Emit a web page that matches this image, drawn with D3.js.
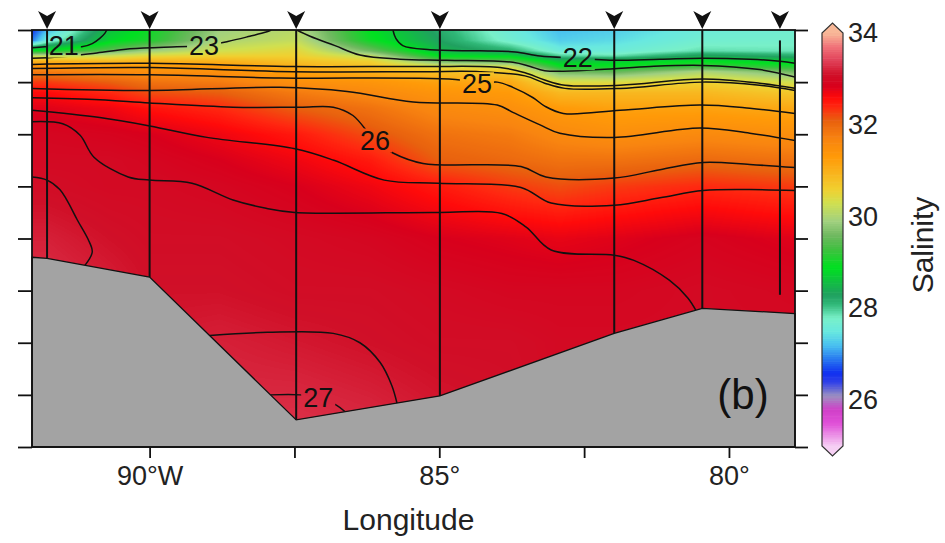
<!DOCTYPE html>
<html>
<head>
<meta charset="utf-8">
<script src="https://cdn.jsdelivr.net/npm/d3@7"></script>
<style>
  body { margin: 0; background: #fff; }
  svg { display: block; font-family: "Liberation Sans", Arial, sans-serif; }
</style>
</head>
<body>
<script>
// ---------------- data ----------------
// longitude (deg E, negative = W) and depth (m, unlabeled axis 0..400)
const lonRange = [-92.03, -78.86];
const depthRange = [0, 400];

// salinity profiles: one row per longitude, one value per depth level
const sectionLon = [-92.03, -91.77, -90.68, -90.00, -88.79, -87.47, -86.20, -84.99, -83.78, -82.92, -81.98, -80.46, -78.86];
const depthLevels = [0, 10, 20, 25, 30, 35, 40, 50, 60, 75, 100, 125, 150, 200, 250, 300, 400];
const salinity = [
  [26.6, 26.9, 29.0, 30.2, 31.0, 31.4, 31.8, 32.3, 32.6, 32.8, 32.95, 33.0, 33.05, 33.2, 33.3, 33.3, 33.3],
  [27.2, 27.6, 29.0, 30.2, 31.0, 31.4, 31.8, 32.3, 32.6, 32.8, 32.95, 33.0, 33.05, 33.2, 33.3, 33.3, 33.3],
  [28.6, 28.8, 29.5, 30.3, 30.9, 31.3, 31.6, 32.1, 32.4, 32.7, 32.9, 33.0, 33.0, 33.1, 33.2, 33.2, 33.2],
  [29.0, 29.1, 29.9, 30.5, 31.0, 31.3, 31.5, 31.9, 32.2, 32.55, 32.85, 32.95, 33.0, 33.05, 33.1, 33.15, 33.2],
  [29.9, 30.0, 30.3, 30.6, 31.0, 31.3, 31.5, 31.8, 32.1, 32.4, 32.7, 32.85, 32.95, 33.05, 33.1, 33.2, 33.3],
  [30.1, 30.2, 30.5, 30.6, 30.8, 31.0, 31.2, 31.5, 31.8, 32.1, 32.5, 32.7, 32.85, 33.0, 33.05, 33.15, 33.35],
  [28.9, 29.0, 29.6, 30.2, 30.6, 30.8, 31.0, 31.4, 31.6, 31.9, 32.2, 32.5, 32.7, 32.95, 33.05, 33.1, 33.3],
  [28.2, 28.3, 28.5, 28.9, 29.6, 30.4, 30.8, 31.2, 31.4, 31.6, 31.9, 32.1, 32.5, 32.85, 33.0, 33.05, 33.2],
  [27.6, 27.7, 28.2, 28.8, 29.5, 30.3, 30.7, 31.1, 31.3, 31.5, 31.8, 32.0, 32.3, 32.8, 32.95, 33.05, 33.1],
  [27.2, 27.3, 27.6, 28.0, 28.6, 29.0, 29.6, 30.4, 30.9, 31.3, 31.6, 31.9, 32.2, 32.75, 32.95, 33.0, 33.0],
  [27.3, 27.4, 27.6, 27.9, 28.7, 29.0, 29.5, 30.4, 30.9, 31.2, 31.5, 31.9, 32.3, 32.8, 32.95, 33.0, 33.0],
  [27.6, 27.7, 27.9, 28.4, 28.9, 29.3, 30.0, 30.6, 30.9, 31.2, 31.6, 32.0, 32.4, 32.9, 33.0, 33.0, 33.0],
  [27.7, 27.75, 27.85, 28.2, 28.7, 29.1, 29.6, 30.3, 30.7, 31.1, 31.5, 31.9, 32.3, 32.8, 32.95, 33.0, 33.0]
];

// density contours, [lon, depth]
const c21   = [[-92.03,17],[-91.81,16],[-91.48,15],[-91.17,16],[-90.99,13],[-90.86,8],[-90.77,3],[-90.74,0]];
const c22   = [[-85.80,0],[-85.75,8],[-85.63,15],[-85.16,19],[-84.30,20],[-83.69,21],[-83.26,25],[-82.61,27],[-82.05,29],[-81.19,28],[-80.46,27],[-79.64,28],[-79.12,30],[-78.86,32]];
const c23a  = [[-92.03,27],[-91.55,26],[-90.91,22],[-90.34,18],[-89.53,16],[-89.06,15],[-88.65,11],[-88.27,6],[-87.99,2],[-87.90,0]];
const c23b  = [[-87.46,0],[-87.23,6],[-86.80,15],[-86.37,24],[-85.68,28],[-84.87,29],[-83.73,31],[-83.43,35],[-83.18,39],[-82.23,38],[-81.36,35],[-80.46,34],[-79.47,38],[-78.86,45]];
const c24   = [[-92.03,33],[-90.00,32],[-87.52,35],[-85.28,35],[-83.95,36],[-83.52,41],[-83.18,48],[-82.83,53],[-81.88,53],[-80.46,47],[-79.47,51],[-78.86,56]];
const c245  = [[-92.03,37],[-90.00,36],[-87.52,40],[-85.28,40],[-84.30,40],[-83.52,44],[-83.18,51],[-82.83,56],[-81.88,56],[-80.46,50],[-79.47,53],[-78.86,58]];
const c25   = [[-92.03,43],[-90.00,43],[-87.75,46],[-84.64,48],[-84.35,52],[-84.00,50],[-83.73,55],[-83.38,65],[-83.18,73],[-82.86,80],[-81.88,77],[-80.50,72],[-79.64,75],[-78.86,80]];
const c255  = [[-92.03,56],[-90.00,58],[-87.75,55],[-86.59,59],[-85.45,69],[-84.00,72],[-83.73,79],[-83.26,91],[-82.92,99],[-81.98,103],[-80.50,94],[-79.64,99],[-78.86,106]];
const c26   = [[-92.03,65],[-90.86,67],[-90.00,70],[-88.56,74],[-87.40,74],[-86.83,74],[-86.49,82],[-86.11,106],[-85.80,118],[-85.28,128],[-83.59,131],[-83.16,141],[-81.98,142],[-81.19,134],[-80.45,127],[-79.64,129],[-78.86,132]];
const c2625 = [[-92.03,77],[-90.86,84],[-90.00,92],[-89.01,103],[-87.49,114],[-86.82,125],[-85.95,144],[-85.02,147],[-83.59,151],[-83.07,166],[-81.98,168],[-81.19,161],[-80.45,154],[-79.64,153],[-78.86,154]];
const c265  = [[-92.03,88],[-91.50,90],[-91.20,101],[-90.96,122],[-90.37,141],[-90.00,144],[-89.27,147],[-88.56,163],[-87.99,171],[-87.49,175],[-85.02,175],[-83.92,176],[-83.50,189],[-83.07,211],[-81.98,216],[-81.64,221],[-81.03,240],[-80.71,257],[-80.57,269]];
const c2675a = [[-92.03,141],[-91.77,144],[-91.55,153],[-91.43,163],[-91.25,182],[-91.06,201],[-90.99,213],[-91.12,226]];
const c2675b = [[-88.96,293],[-87.97,290],[-86.83,291],[-86.37,300],[-86.02,319],[-85.82,341],[-85.73,358]];
const c27   = [[-87.92,350],[-87.40,350],[-87.09,353],[-86.77,360],[-86.63,366]];

const labelText = ['21', '23', '22', '25', '26', '27'];
const labelLine = [c21, c23a, c22, c25, c26, c27];
const labelLon  = [-91.48, -89.06, -82.61, -84.35, -86.11, -87.09];

// bathymetry and stations
const bathyLon   = [-92.03, -91.77, -90.00, -87.47, -84.99, -81.98, -80.46, -78.86];
const bathyDepth = [218, 219, 237, 374, 351, 291, 267, 272];
const stationLon    = [-91.77, -90.00, -87.47, -84.99, -81.98, -80.46, -79.12];
const stationTop    = [0, 0, 0, 0, 0, 0, 10];
const stationBottom = [219, 237, 374, 351, 291, 267, 254];

// axis ticks
const lonTicks = [-90, -87.5, -85, -82.5, -80];
const lonTickLabels = ['90°W', '', '85°', '', '80°'];
const depthTicks = d3.range(0, 401, 50);
const cbarTicks = [26, 28, 30, 32, 34];

// colour palette (salinity -> colour)
const cmapValues = [25.0, 25.5, 25.8, 26.1, 26.4, 26.6, 26.9, 27.2, 27.5, 27.8, 28.1, 28.3, 28.6, 28.9, 29.3, 29.6, 29.9, 30.3, 30.6, 30.9, 31.3, 31.7, 32.1, 32.4, 32.6, 32.85, 33.1, 33.4, 33.7, 34.0];
const cmapColors = ['#f6d0f4', '#e050d8', '#d040c8', '#9c90c0', '#3040e8', '#1030f0', '#2878f0', '#48c0f0', '#68e8e0', '#78f0c8', '#30b878', '#20a060', '#10c040', '#00e020', '#40c040', '#70b860', '#a0d080', '#d0e050', '#f0d030', '#f8b820', '#ff9a08', '#f88410', '#e8600e', '#ff2810', '#ff0a0a', '#d8001c', '#d01028', '#e04058', '#f07078', '#f8b898'];

// ---------------- drawing ----------------
const W = 945, H = 543;
const plot = {left: 32, top: 30, right: 795, bottom: 447};

const svg = d3.select('body').append('svg')
  .attr('width', W)
  .attr('height', H);

const x = d3.scaleLinear().domain(lonRange).range([plot.left, plot.right]);
const y = d3.scaleLinear().domain(depthRange).range([plot.top, plot.bottom]);
const color = d3.scaleLinear().domain(cmapValues).range(cmapColors).clamp(true);
const lut = d3.range(0, 901).map(k => d3.rgb(color(25 + k * 0.01)));

function clampIdx(arr, v) {
  let i = d3.bisectRight(arr, v) - 1;
  return Math.max(0, Math.min(arr.length - 2, i));
}

// bilinear lookup in the profile table
function salAt(lon, dep) {
  const i = clampIdx(sectionLon, lon);
  const j = clampIdx(depthLevels, dep);
  const tx = Math.max(0, Math.min(1, (lon - sectionLon[i]) / (sectionLon[i + 1] - sectionLon[i])));
  const ty = Math.max(0, Math.min(1, (dep - depthLevels[j]) / (depthLevels[j + 1] - depthLevels[j])));
  const a = salinity[i][j] * (1 - ty) + salinity[i][j + 1] * ty;
  const b = salinity[i + 1][j] * (1 - ty) + salinity[i + 1][j + 1] * ty;
  return a * (1 - tx) + b * tx;
}

// raster of the salinity field
const pw = plot.right - plot.left, ph = plot.bottom - plot.top;
const cv = document.createElement('canvas');
cv.width = pw; cv.height = ph;
const ctx = cv.getContext('2d');
const img = ctx.createImageData(pw, ph);
for (let py = 0; py < ph; py++) {
  const dep = y.invert(plot.top + py + 0.5);
  for (let px = 0; px < pw; px++) {
    const v = salAt(x.invert(plot.left + px + 0.5), dep);
    const k = Math.max(0, Math.min(900, Math.round((v - 25) * 100)));
    const c = lut[k];
    const o = (py * pw + px) * 4;
    img.data[o] = c.r; img.data[o + 1] = c.g; img.data[o + 2] = c.b; img.data[o + 3] = 255;
  }
}
ctx.putImageData(img, 0, 0);

svg.append('image')
  .attr('href', cv.toDataURL())
  .attr('x', plot.left)
  .attr('y', plot.top)
  .attr('width', pw)
  .attr('height', ph);

const defs = svg.append('defs');
defs.append('clipPath').attr('id', 'plotclip')
  .append('rect')
  .attr('x', plot.left).attr('y', plot.top).attr('width', pw).attr('height', ph);

// contour lines
const contourLines = [c21, c22, c23a, c23b, c24, c245, c25, c255, c26, c2625, c265, c2675a, c2675b, c27];
const line = d3.line()
  .x(d => x(d[0]))
  .y(d => y(d[1]))
  .curve(d3.curveCatmullRom.alpha(0.5));

function depthOn(pts, lon) {
  for (let k = 0; k < pts.length - 1; k++) {
    const a = pts[k], b = pts[k + 1];
    if ((lon - a[0]) * (lon - b[0]) <= 0) {
      const t = (lon - a[0]) / (b[0] - a[0]);
      return a[1] + t * (b[1] - a[1]);
    }
  }
  return pts[0][1];
}

const mask = defs.append('mask').attr('id', 'labelgap');
mask.append('rect').attr('x', 0).attr('y', 0).attr('width', W).attr('height', H).attr('fill', '#fff');

const contG = svg.append('g').attr('clip-path', 'url(#plotclip)');
contG.append('g')
  .attr('mask', 'url(#labelgap)')
  .selectAll('path')
  .data(contourLines)
  .enter()
    .append('path')
    .attr('d', line)
    .attr('fill', 'none')
    .attr('stroke', '#111')
    .attr('stroke-width', 1.5);

const labels = svg.append('g')
  .selectAll('text')
  .data(labelText)
  .enter()
    .append('text')
    .text(d => d)
    .attr('x', (d, i) => x(labelLon[i]))
    .attr('y', (d, i) => y(depthOn(labelLine[i], labelLon[i])))
    .attr('text-anchor', 'middle')
    .attr('dominant-baseline', 'central')
    .attr('font-size', 27)
    .attr('fill', '#111');

labels.each(function() {
  const b = this.getBBox();
  mask.append('rect')
    .attr('x', b.x - 2).attr('y', b.y + 3)
    .attr('width', b.width + 4).attr('height', b.height - 6)
    .attr('fill', '#000');
});

// bathymetry
const bathy = bathyLon.map((d, i) => [d, bathyDepth[i]]);
bathy.push([lonRange[1], depthRange[1]], [lonRange[0], depthRange[1]]);
svg.append('path')
  .attr('d', 'M' + bathy.map(d => [x(d[0]), y(d[1])].join(',')).join('L') + 'Z')
  .attr('fill', '#a3a3a3')
  .attr('stroke', '#111')
  .attr('stroke-width', 1.3);

// station lines and markers
svg.append('g')
  .selectAll('line')
  .data(stationLon)
  .enter()
    .append('line')
    .attr('x1', d => x(d)).attr('x2', d => x(d))
    .attr('y1', (d, i) => y(stationTop[i]))
    .attr('y2', (d, i) => y(stationBottom[i]))
    .attr('stroke', '#111')
    .attr('stroke-width', 2);

svg.append('g')
  .selectAll('path')
  .data(stationLon)
  .enter()
    .append('path')
    .attr('d', 'M-9,-9L0,-4L9,-9L0,9Z')
    .attr('transform', d => `translate(${x(d)},${y(0) - 10})`)
    .attr('fill', '#111');

// frame and axes
svg.append('rect')
  .attr('x', plot.left).attr('y', plot.top)
  .attr('width', pw).attr('height', ph)
  .attr('fill', 'none')
  .attr('stroke', '#111')
  .attr('stroke-width', 1.8);

const xAxis = svg.append('g')
  .attr('transform', `translate(0,${plot.bottom})`)
  .call(d3.axisBottom(x).tickValues(lonTicks).tickSize(11).tickPadding(8)
    .tickFormat((d, i) => lonTickLabels[i]));
const yAxisL = svg.append('g')
  .attr('transform', `translate(${plot.left},0)`)
  .call(d3.axisLeft(y).tickValues(depthTicks).tickSize(14).tickFormat(''));
const yAxisR = svg.append('g')
  .attr('transform', `translate(${plot.right},0)`)
  .call(d3.axisRight(y).tickValues(depthTicks).tickSize(13).tickFormat(''));

[xAxis, yAxisL, yAxisR].forEach(g => {
  g.select('.domain').remove();
  g.selectAll('.tick line').attr('stroke', '#111').attr('stroke-width', 1.8);
});
xAxis.selectAll('.tick text')
  .attr('font-size', 27)
  .attr('fill', '#222')
  .attr('font-family', '"Liberation Sans", Arial, sans-serif');

svg.append('text')
  .attr('x', (plot.left + plot.right) / 2 - 5)
  .attr('y', 530)
  .attr('text-anchor', 'middle')
  .attr('font-size', 30)
  .attr('fill', '#222')
  .text('Longitude');

svg.append('text')
  .attr('x', 743)
  .attr('y', 394)
  .attr('text-anchor', 'middle')
  .attr('dominant-baseline', 'central')
  .attr('font-size', 42)
  .attr('fill', '#111')
  .text('(b)');

// colour bar
const cb = {x0: 822, x1: 843};
const cbY = d3.scaleLinear().domain([25, 34]).range([446, 33]);
const cbStep = 0.05;
svg.append('g')
  .selectAll('rect')
  .data(d3.range(25, 34, cbStep))
  .enter()
    .append('rect')
    .attr('x', cb.x0)
    .attr('width', cb.x1 - cb.x0)
    .attr('y', d => cbY(d + cbStep))
    .attr('height', d => cbY(d) - cbY(d + cbStep) + 0.6)
    .attr('fill', d => color(d + cbStep / 2));

const cxm = (cb.x0 + cb.x1) / 2;
svg.append('path')
  .attr('d', `M${cb.x0},${cbY(34)}L${cxm},${cbY(34) - 10}L${cb.x1},${cbY(34)}Z`)
  .attr('fill', color(34));
svg.append('path')
  .attr('d', `M${cb.x0},${cbY(25)}L${cxm},${cbY(25) + 10}L${cb.x1},${cbY(25)}Z`)
  .attr('fill', color(25));
svg.append('path')
  .attr('d', `M${cb.x0},${cbY(25)}L${cb.x0},${cbY(34)}L${cxm},${cbY(34) - 10}L${cb.x1},${cbY(34)}L${cb.x1},${cbY(25)}L${cxm},${cbY(25) + 10}Z`)
  .attr('fill', 'none')
  .attr('stroke', '#333')
  .attr('stroke-width', 1.2);

svg.append('g')
  .selectAll('text')
  .data(cbarTicks)
  .enter()
    .append('text')
    .text(d => d)
    .attr('x', cb.x1 + 5)
    .attr('y', d => cbY(d))
    .attr('dominant-baseline', 'central')
    .attr('font-size', 27)
    .attr('fill', '#222');

svg.append('text')
  .attr('transform', 'translate(922,245) rotate(-90)')
  .attr('text-anchor', 'middle')
  .attr('dominant-baseline', 'central')
  .attr('font-size', 30)
  .attr('fill', '#222')
  .text('Salinity');
</script>
</body>
</html>
